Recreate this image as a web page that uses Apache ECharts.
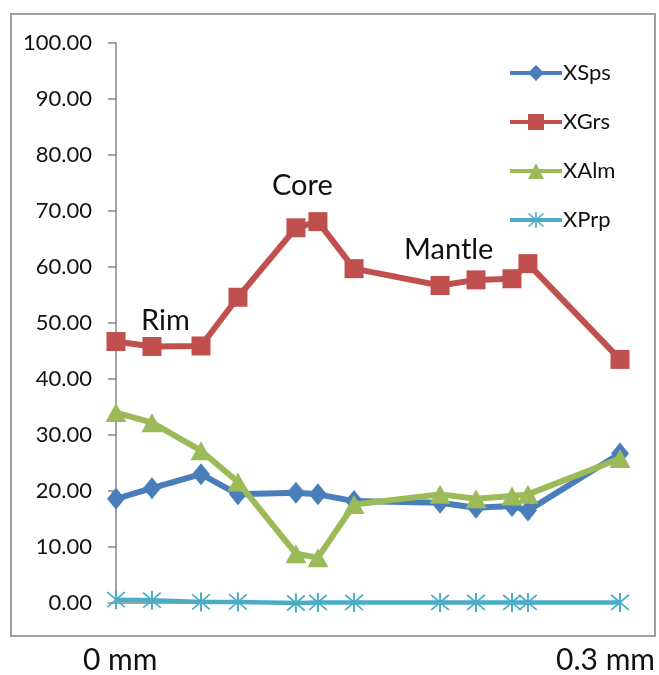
<!DOCTYPE html>
<html>
<head>
<meta charset="utf-8">
<script src="https://cdn.jsdelivr.net/npm/echarts@6/dist/echarts.min.js"></script>
<style>
  html, body { margin: 0; padding: 0; background: #fff; }
  #chart { width: 659px; height: 675px; }
</style>
</head>
<body>
<div id="chart"></div>
<script>
// Garnet end-member profile across the grain (distance from rim in mm)
const distanceMm = [0, 0.0214, 0.0506, 0.0726, 0.1071, 0.1202, 0.1417, 0.1929, 0.2143, 0.2357, 0.2452, 0.3];
const xSps = [18.6, 20.5, 23.0, 19.4, 19.7, 19.4, 18.2, 17.9, 17.0, 17.3, 16.5, 26.7];
const xGrs = [46.7, 45.8, 45.9, 54.6, 67.0, 68.1, 59.7, 56.7, 57.7, 57.9, 60.6, 43.5];
const xAlm = [34.0, 32.2, 27.2, 21.6, 8.8, 8.1, 17.6, 19.4, 18.6, 19.1, 19.4, 25.8];
const xPrp = [0.6, 0.5, 0.2, 0.2, 0.0, 0.1, 0.1, 0.1, 0.1, 0.1, 0.1, 0.1];

const seriesNames = ['XSps', 'XGrs', 'XAlm', 'XPrp'];
const zoneLabels = ['Rim', 'Core', 'Mantle'];
const axisEndLabels = ['0 mm', '0.3 mm'];

const FONT = 'Lato, "Open Sans", sans-serif';
// asterisk marker: one vertical bar and two diagonals
const starPath = 'path://M9.1,0 L10.9,0 L10.9,20 L9.1,20 Z M1.4,2.6 L2.6,1.4 L18.6,17.4 L17.4,18.6 Z M17.4,1.4 L18.6,2.6 L2.6,18.6 L1.4,17.4 Z';

function pairs(ys) { return ys.map((y, i) => [distanceMm[i], y]); }

function lineSeries(name, data, color, symbol, symbolSize, width, z) {
  return {
    name, type: 'line', data: pairs(data), z,
    symbol, symbolSize, showSymbol: true,
    itemStyle: { color, opacity: 1 },
    lineStyle: { color, width, opacity: 1 }
  };
}

const chart = echarts.init(document.getElementById('chart'), null, { renderer: 'canvas' });

chart.setOption({
  animation: false,
  backgroundColor: '#fff',
  grid: { left: 116, top: 43, width: 504, height: 560 },
  xAxis: {
    type: 'value', min: 0, max: 0.3,
    axisLine: { show: true, lineStyle: { color: '#868686', width: 1.5 } },
    axisTick: { show: false }, axisLabel: { show: false }, splitLine: { show: false }
  },
  yAxis: {
    type: 'value', min: 0, max: 100, interval: 10,
    axisLine: { show: true, lineStyle: { color: '#868686', width: 1.5 } },
    axisTick: { show: true, inside: false, length: 8, lineStyle: { color: '#868686', width: 1.5 } },
    axisLabel: { margin: 24, color: '#111', fontFamily: FONT, fontSize: 22,
      formatter: v => v.toFixed(2) },
    splitLine: { show: false }
  },
  legend: {
    orient: 'vertical', left: 503, top: 57, itemGap: 27,
    itemWidth: 52, itemHeight: 20,
    textStyle: { fontFamily: FONT, fontSize: 22, color: '#111', padding: [0, 0, 0, -4] },
    lineStyle: { width: 4 },
    data: seriesNames
  },
  series: [
    lineSeries(seriesNames[0], xSps, '#4a7ebb', 'diamond', [18, 22], 6, 3),
    lineSeries(seriesNames[1], xGrs, '#c0504d', 'rect', 19, 6, 2),
    lineSeries(seriesNames[2], xAlm, '#9bbb59', 'triangle', [21, 19], 6, 4),
    lineSeries(seriesNames[3], xPrp, '#4bacc6', starPath, 19, 4.5, 5)
  ],
  graphic: [
    { type: 'rect', shape: { x: 11, y: 14, width: 644, height: 622 },
      style: { fill: 'none', stroke: '#a0a0a0', lineWidth: 2 }, silent: true },
    { type: 'text', left: 141, top: 306, style: { text: zoneLabels[0], font: '29px ' + FONT, fill: '#111' } },
    { type: 'text', left: 272, top: 171, style: { text: zoneLabels[1], font: '29px ' + FONT, fill: '#111' } },
    { type: 'text', left: 404, top: 235, style: { text: zoneLabels[2], font: '29px ' + FONT, fill: '#111' } },
    { type: 'text', left: 83, top: 645, style: { text: axisEndLabels[0], font: '30px ' + FONT, fill: '#111' } },
    { type: 'text', right: 4, top: 645, style: { text: axisEndLabels[1], font: '30px ' + FONT, fill: '#111' } }
  ]
});
</script>
</body>
</html>
